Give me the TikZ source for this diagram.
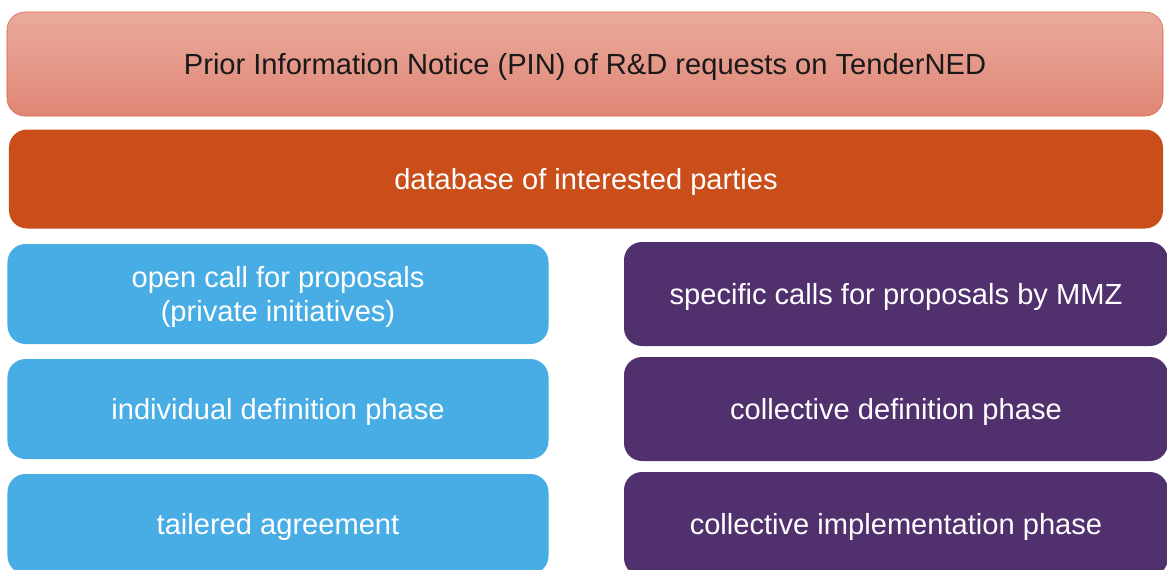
\documentclass[tikz,border=0pt]{standalone}
\usepackage{fontspec}
\setmainfont{Liberation Sans}
\usepackage{tikz}
\usetikzlibrary{positioning}
\definecolor{pinTop}{HTML}{E9AA9C}
\definecolor{pinBot}{HTML}{E08676}
\definecolor{pinLine}{HTML}{D9643F}
\definecolor{dbFill}{HTML}{C94E1A}
\definecolor{openFill}{HTML}{48ADE4}
\definecolor{mmzFill}{HTML}{51306E}
\tikzstyle{bar} = [rectangle, rounded corners=0.45cm, text centered, inner sep=0pt, text depth=0pt, font=\fontsize{20.7}{24.5}\selectfont]
\tikzstyle{pinbar} = [bar, minimum width=28.9cm, minimum height=2.6cm, draw=pinLine, top color=pinTop, bottom color=pinBot, text=black!90]
\tikzstyle{dbbar} = [bar, minimum width=28.85cm, minimum height=2.475cm, fill=dbFill, text=white]
\tikzstyle{openbox} = [bar, minimum width=13.525cm, minimum height=2.5cm, fill=openFill, text=white, align=center]
\tikzstyle{mmzbox} = [bar, minimum width=13.6cm, minimum height=2.6cm, fill=mmzFill, text=white, align=center]

\begin{document}
\begin{tikzpicture}[node distance=2.875cm]
\useasboundingbox (0,0) rectangle (29.175,-14.225);
\node (pin) [pinbar] at (14.625,-1.6) {Prior Information Notice (PIN) of R\&D requests on TenderNED};
\node (db) [dbbar, below of=pin, xshift=0.025cm] {database of interested parties};
\node (open) [openbox, below of=db, xshift=-7.7cm] {open call for proposals\\(private initiatives)};
\node (indiv) [openbox, below of=open] {individual definition phase};
\node (tail) [openbox, below of=indiv] {tailered agreement};
\node (spec) [mmzbox, below of=db, xshift=7.75cm] {specific calls for proposals by MMZ};
\node (cdef) [mmzbox, below of=spec] {collective definition phase};
\node (cimp) [mmzbox, below of=cdef] {collective implementation phase};
\end{tikzpicture}
\end{document}
